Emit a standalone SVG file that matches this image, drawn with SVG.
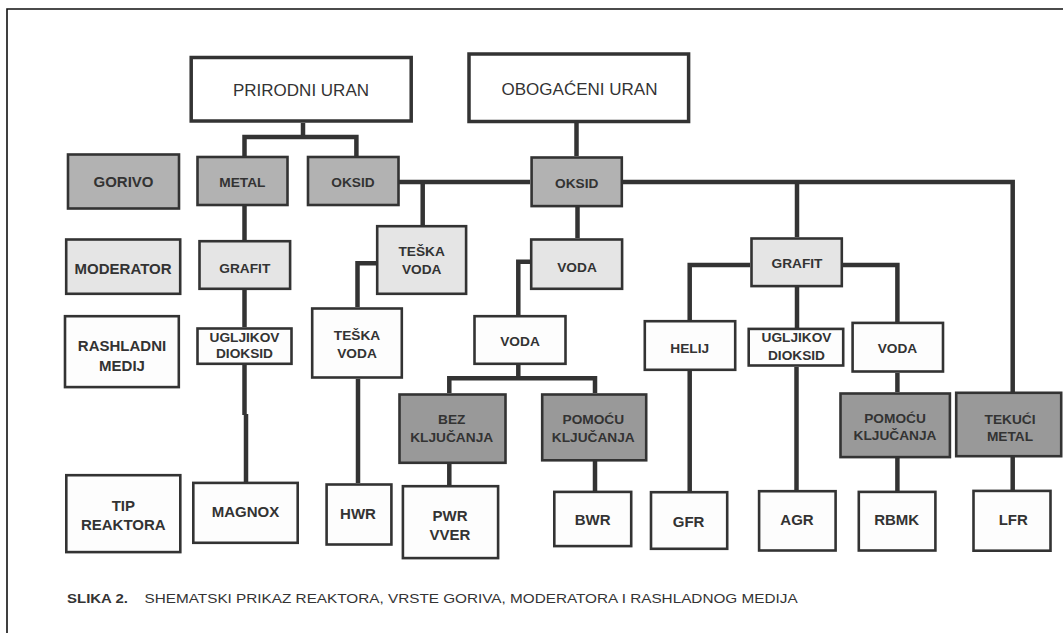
<svg xmlns="http://www.w3.org/2000/svg" width="1063" height="633" viewBox="0 0 1063 633">
<style>
.n{stroke:#333;stroke-width:2.6;fill:#fdfdfd}
.big{stroke:#333;stroke-width:3.5;fill:#fff}
.d{fill:#b2b2b2}
.l{fill:#e5e5e5}
.k{fill:#999}
text{font-family:"Liberation Sans",Arial,sans-serif;fill:#333;text-anchor:middle}
.t{font-size:13.7px;font-weight:bold}
.tl{font-size:15px;font-weight:bold}
.h{font-size:17px}
.c{font-size:13.5px;text-anchor:start}
#connectors path{fill:none;stroke:#333;stroke-width:4.5;stroke-linejoin:miter}
</style>
<rect width="1063" height="633" fill="#fff"/>
<path d="M7,633 V9 H1063" fill="none" stroke="#111" stroke-width="1.6"/>
<g id="connectors">
<path d="M303,123 V137"/>
<path d="M244.5,156 V137 H356.4 V156"/>
<path d="M244.5,206 V240"/>
<path d="M244.5,290 V327"/>
<path d="M244.5,365 V415"/>
<path d="M246,414 V482"/>
<path d="M399,182 H530"/>
<path d="M422.7,182 V225"/>
<path d="M376,263.3 H357.5 V307"/>
<path d="M358,379 V483"/>
<path d="M576.5,123 V156"/>
<path d="M577.5,207 V238"/>
<path d="M530,261.7 H518.3 V315"/>
<path d="M518.3,365 V378.3"/>
<path d="M449.3,393 V378.3 H595 V393"/>
<path d="M449.3,464 V485"/>
<path d="M595,461 V491"/>
<path d="M623,182 H1012.7 V392"/>
<path d="M797,182 V237"/>
<path d="M750,265 H689.7 V320"/>
<path d="M843,265 H897.4 V322"/>
<path d="M797,287 V328"/>
<path d="M689.7,371 V491"/>
<path d="M796.5,367 V490"/>
<path d="M897.4,373 V392"/>
<path d="M897.4,458 V491"/>
<path d="M1012.7,457 V490"/>
</g>
<g id="prirodni"><rect class="big" x="191.2" y="57.5" width="220" height="63.5"/><text class="h" x="301" y="96">PRIRODNI URAN</text></g>
<g id="obogaceni"><rect class="big" x="469" y="54" width="219.6" height="67.5"/><text class="h" x="579.5" y="95">OBOGAĆENI URAN</text></g>
<g id="gorivo"><rect class="n d" x="68" y="154.5" width="111" height="54"/><text class="tl" x="123.5" y="187">GORIVO</text></g>
<g id="metal"><rect class="n d" x="197.5" y="157" width="90" height="48"/><text class="t" x="242.4" y="187">METAL</text></g>
<g id="oksid1"><rect class="n d" x="308" y="157" width="90.5" height="48"/><text class="t" x="353" y="187">OKSID</text></g>
<g id="oksid2"><rect class="n d" x="531.6" y="157.5" width="90.2" height="48.6"/><text class="t" x="576.7" y="188">OKSID</text></g>
<g id="moderator"><rect class="n l" x="66.2" y="239.5" width="114" height="54.3"/><text class="tl" x="123.1" y="274">MODERATOR</text></g>
<g id="grafit1"><rect class="n l" x="199.5" y="241.2" width="90.6" height="47.6"/><text class="t" x="244.8" y="272.7">GRAFIT</text></g>
<g id="teska1"><rect class="n l" x="377.2" y="226.2" width="88.9" height="67.6"/><text class="t" x="421.7" y="256">TEŠKA</text><text class="t" x="421.7" y="274">VODA</text></g>
<g id="voda1"><rect class="n l" x="531.2" y="239.5" width="90.9" height="49.3"/><text class="t" x="577" y="271.7">VODA</text></g>
<g id="grafit2"><rect class="n l" x="751.5" y="238.5" width="90.3" height="47.6"/><text class="t" x="797" y="268">GRAFIT</text></g>
<g id="rashladni"><rect class="n" x="65" y="316.2" width="113.8" height="70.9"/><text class="tl" x="122" y="350.7">RASHLADNI</text><text class="tl" x="122" y="370.7">MEDIJ</text></g>
<g id="ugljikov1"><rect class="n" x="197.5" y="328.5" width="94" height="35.3"/><text class="t" x="244.5" y="341.7">UGLJIKOV</text><text class="t" x="244.5" y="358.3">DIOKSID</text></g>
<g id="teska2"><rect class="n" x="312.2" y="308.5" width="89.6" height="69"/><text class="t" x="357" y="340">TEŠKA</text><text class="t" x="357" y="358.3">VODA</text></g>
<g id="voda2"><rect class="n" x="474.5" y="316.2" width="91" height="47.6"/><text class="t" x="520" y="346">VODA</text></g>
<g id="helij"><rect class="n" x="644.8" y="321.2" width="90.4" height="48.6"/><text class="t" x="689.7" y="352.7">HELIJ</text></g>
<g id="ugljikov2"><rect class="n" x="748.7" y="328.9" width="94.5" height="36.6"/><text class="t" x="796.5" y="341.7">UGLJIKOV</text><text class="t" x="796.5" y="360">DIOKSID</text></g>
<g id="voda3"><rect class="n" x="852.6" y="322.9" width="90.4" height="48.6"/><text class="t" x="897.4" y="353.3">VODA</text></g>
<g id="bez"><rect class="n k" x="399.5" y="394.5" width="106" height="68.3"/><text class="t" x="451.7" y="424">BEZ</text><text class="t" x="451.7" y="442.3">KLJUČANJA</text></g>
<g id="pomocu1"><rect class="n k" x="542.2" y="394.5" width="104" height="65.8"/><text class="t" x="593.3" y="424">POMOĆU</text><text class="t" x="593.3" y="442.3">KLJUČANJA</text></g>
<g id="pomocu2"><rect class="n k" x="840.5" y="393.5" width="109.4" height="63.6"/><text class="t" x="895" y="423.3">POMOĆU</text><text class="t" x="895" y="440">KLJUČANJA</text></g>
<g id="tekuci"><rect class="n k" x="956.2" y="392.8" width="105" height="63.4"/><text class="t" x="1010" y="424">TEKUĆI</text><text class="t" x="1010" y="441">METAL</text></g>
<g id="tip"><rect class="n" x="66.3" y="475.2" width="114" height="76.9"/><text class="tl" x="123.3" y="510.7">TIP</text><text class="tl" x="123.3" y="530">REAKTORA</text></g>
<g id="magnox"><rect class="n" x="193.3" y="482.9" width="104.4" height="59.9"/><text class="tl" x="245.5" y="516.7">MAGNOX</text></g>
<g id="hwr"><rect class="n" x="326.6" y="484.5" width="64.8" height="60"/><text class="tl" x="358" y="519.3">HWR</text></g>
<g id="pwr"><rect class="n" x="402.9" y="486.2" width="95.2" height="71.9"/><text class="tl" x="450" y="520.7">PWR</text><text class="tl" x="450" y="540">VVER</text></g>
<g id="bwr"><rect class="n" x="554.3" y="491.9" width="76.9" height="54.2"/><text class="tl" x="592.7" y="525">BWR</text></g>
<g id="gfr"><rect class="n" x="651" y="492.2" width="76.2" height="56.6"/><text class="tl" x="688.6" y="526.7">GFR</text></g>
<g id="agr"><rect class="n" x="759.1" y="491.2" width="76.5" height="59.3"/><text class="tl" x="797" y="525">AGR</text></g>
<g id="rbmk"><rect class="n" x="858.8" y="491.9" width="76.6" height="58.6"/><text class="tl" x="896.7" y="525">RBMK</text></g>
<g id="lfr"><rect class="n" x="973.5" y="490.9" width="77" height="59.8"/><text class="tl" x="1013.3" y="524.8">LFR</text></g>
<g id="caption">
<text class="c" x="67" y="603" font-weight="bold" textLength="61" lengthAdjust="spacingAndGlyphs">SLIKA 2.</text>
<text class="c" x="144.6" y="603" textLength="653" lengthAdjust="spacingAndGlyphs">SHEMATSKI PRIKAZ REAKTORA, VRSTE GORIVA, MODERATORA I RASHLADNOG MEDIJA</text>
</g>
</svg>
